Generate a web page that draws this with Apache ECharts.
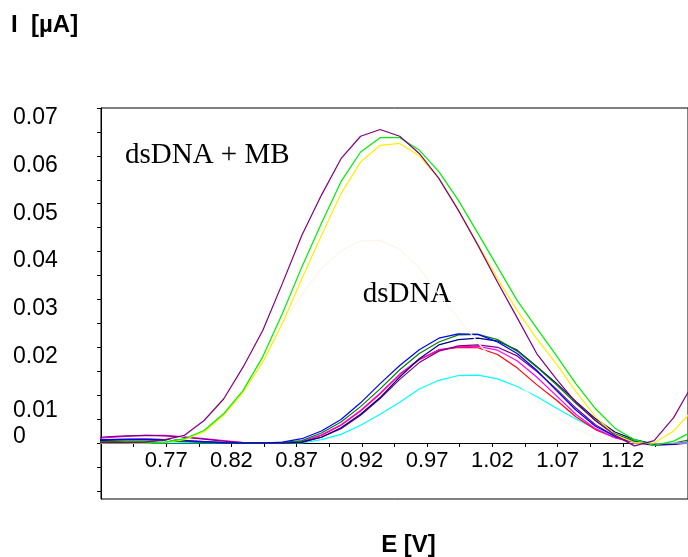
<!DOCTYPE html>
<html>
<head>
<meta charset="utf-8">
<script src="https://cdn.jsdelivr.net/npm/echarts@6/dist/echarts.min.js"></script>
<style>
  html, body { margin: 0; padding: 0; background: #ffffff; }
  #chart { width: 688px; height: 557px; }
</style>
</head>
<body>
<div id="chart"></div>
<script>
// Potential sweep (V), one sample every 15 mV
const potentials = [0.709, 0.724, 0.739, 0.754, 0.769, 0.784, 0.799, 0.814, 0.829, 0.844,
  0.859, 0.874, 0.889, 0.904, 0.919, 0.934, 0.949, 0.964, 0.979, 0.994,
  1.009, 1.024, 1.039, 1.054, 1.069, 1.084, 1.099, 1.114, 1.129, 1.144,
  1.159, 1.174];

// dsDNA + MB scans (current, µA)
const mbPurple = [0.0001, 0.0001, 0.0001, 0.0002, 0.0007, 0.0016, 0.0047, 0.0092, 0.0159, 0.0235,
  0.0333, 0.0434, 0.0518, 0.0594, 0.0641, 0.0655, 0.0641, 0.0605, 0.0553, 0.0486,
  0.0413, 0.0336, 0.0262, 0.0187, 0.0134, 0.0085, 0.0047, 0.0016, -0.0006, 0.0005,
  0.0053, 0.0125];
const mbGreen = [0, 0, 0, 0.0001, 0.0002, 0.0009, 0.0026, 0.0061, 0.0110, 0.0180,
  0.0270, 0.0368, 0.0459, 0.0546, 0.0608, 0.0638, 0.0638, 0.0612, 0.0567, 0.0507,
  0.0438, 0.0368, 0.0298, 0.0240, 0.0183, 0.0124, 0.0072, 0.0031, 0.0007, -0.0005,
  0.0004, 0.0025];
const mbYellow = [0, 0, 0, 0.0001, 0.0001, 0.0007, 0.0023, 0.0058, 0.0106, 0.0169,
  0.0249, 0.0343, 0.0434, 0.0521, 0.0587, 0.0622, 0.0626, 0.0600, 0.0553, 0.0487,
  0.0415, 0.0343, 0.0277, 0.0218, 0.0166, 0.0108, 0.0055, 0.0017, 0.0001, 0.0000,
  0.0025, 0.0070];
const mbFaint = [0, 0, 0, 0, 0.0003, 0.0015, 0.0045, 0.0090, 0.0145, 0.0205,
  0.0250, 0.0310, 0.0365, 0.0402, 0.0422, 0.0424, 0.0405, 0.0366, 0.0310, 0.0260,
  0.0210, 0.0162, 0.0125, 0.0090, 0.0055, 0.0030, 0.0012, 0.0003, 0, 0,
  0, 0];

// dsDNA scans (current, µA)
const dnaBlue = [0.0006, 0.0007, 0.0008, 0.0008, 0.0007, 0.0005, 0.0003, 0.0001, 0, 0,
  0.0002, 0.0009, 0.0025, 0.0049, 0.0084, 0.0124, 0.0162, 0.0195, 0.0219, 0.0228,
  0.0227, 0.0211, 0.0187, 0.0152, 0.0110, 0.0069, 0.0035, 0.0014, 0.0002, -0.0003,
  -0.0002, 0.0003];
const dnaGreen = [0.0002, 0.0003, 0.0004, 0.0004, 0.0004, 0.0003, 0.0002, 0.0001, 0, 0,
  0.0001, 0.0005, 0.0021, 0.0044, 0.0076, 0.0113, 0.0153, 0.0187, 0.0211, 0.0226,
  0.0227, 0.0216, 0.0192, 0.0159, 0.0122, 0.0083, 0.0047, 0.0019, 0.0004, -0.0003,
  0.0000, 0.0008];
const dnaNavy = [0.0005, 0.0006, 0.0007, 0.0007, 0.0006, 0.0004, 0.0002, 0.0001, 0, 0,
  0, 0.0002, 0.0012, 0.0032, 0.0060, 0.0095, 0.0138, 0.0176, 0.0205, 0.0216,
  0.0219, 0.0213, 0.0194, 0.0160, 0.0125, 0.0087, 0.0051, 0.0023, 0.0007, -0.0002,
  -0.0002, 0.0002];
const dnaRed = [0.0004, 0.0006, 0.0007, 0.0008, 0.0007, 0.0005, 0.0003, 0.0001, 0, 0,
  0.0001, 0.0002, 0.0016, 0.0037, 0.0067, 0.0103, 0.0143, 0.0174, 0.0194, 0.0200,
  0.0199, 0.0185, 0.0157, 0.0122, 0.0090, 0.0055, 0.0028, 0.0011, 0.0001, -0.0003,
  -0.0002, 0.0002];
const dnaMagenta = [0.0008, 0.0011, 0.0014, 0.0016, 0.0016, 0.0013, 0.0009, 0.0005, 0.0001, 0,
  0.0001, 0.0003, 0.0017, 0.0038, 0.0068, 0.0104, 0.0144, 0.0175, 0.0195, 0.0201,
  0.0202, 0.0194, 0.0172, 0.0138, 0.0099, 0.0060, 0.0030, 0.0011, 0, -0.0003,
  -0.0002, 0.0002];
const dnaPurple = [0.0010, 0.0013, 0.0015, 0.0016, 0.0015, 0.0012, 0.0008, 0.0004, 0.0001, 0,
  0, 0.0002, 0.0012, 0.0030, 0.0058, 0.0093, 0.0133, 0.0168, 0.0192, 0.0203,
  0.0205, 0.0200, 0.0182, 0.0150, 0.0113, 0.0073, 0.0038, 0.0014, 0.0001, -0.0005,
  -0.0003, 0.0001];
const dnaCyan = [0, 0, 0, 0, 0, 0, 0, 0, 0, 0,
  0, 0, 0.0007, 0.0018, 0.0037, 0.0060, 0.0085, 0.0113, 0.0131, 0.0141,
  0.0142, 0.0134, 0.0118, 0.0097, 0.0073, 0.0050, 0.0030, 0.0012, 0.0002, -0.0002,
  -0.0001, 0.0002];

// Axis ticks and labels
const xTickValues = [0.745, 0.77, 0.795, 0.82, 0.845, 0.87, 0.895, 0.92, 0.945, 0.97,
  0.995, 1.02, 1.045, 1.07, 1.095, 1.12, 1.145, 1.17];
const xTickLabels = ['0.77', '0.82', '0.87', '0.92', '0.97', '1.02', '1.07', '1.12'];
const yTickValues = [-0.01, -0.005, 0, 0.005, 0.01, 0.015, 0.02, 0.025, 0.03, 0.035,
  0.04, 0.045, 0.05, 0.055, 0.06, 0.065, 0.07];
const yTickLabels = ['0', '0.01', '0.02', '0.03', '0.04', '0.05', '0.06', '0.07'];

const SANS = "'Liberation Sans', Arial, sans-serif";
const SERIF = "'Liberation Serif', 'Times New Roman', serif";

function pairs(values) {
  return potentials.map((e, i) => [e, values[i]]);
}

function scan(values, color) {
  return {
    type: 'line',
    data: pairs(values),
    symbol: 'none',
    clip: false,
    silent: true,
    lineStyle: { color: color, width: 1.2 },
    z: 3
  };
}

function yLabel(value) {
  const text = yTickLabels.find(t => Math.abs(Number(t) - value) < 1e-9) || '';
  const style = text === '0.01' ? 'low' : (text === '0' ? 'high' : 'std');
  return '{' + style + '|' + text + '}';
}

const labelFont = { fontSize: 23, fontFamily: SANS, color: '#000' };

const chart = echarts.init(document.getElementById('chart'), null, { renderer: 'canvas' });

chart.setOption({
  animation: false,
  backgroundColor: '#ffffff',
  grid: {
    show: true,
    left: 101,
    top: 108,
    right: -13,
    bottom: 58,
    borderColor: '#000',
    borderWidth: 1,
    containLabel: false
  },
  xAxis: {
    type: 'value',
    min: 0.72,
    max: 1.17,
    offset: 0,
    axisLine: { show: true, onZero: false, lineStyle: { color: '#000', width: 1 } },
    axisTick: { show: true, inside: false, length: 4, customValues: xTickValues,
      lineStyle: { color: '#000', width: 1 } },
    axisLabel: {
      customValues: xTickLabels.map(Number),
      formatter: v => xTickLabels.find(t => Math.abs(Number(t) - v) < 1e-9) || '',
      fontSize: 22, fontFamily: SANS, color: '#000',
      margin: 18, verticalAlign: 'middle'
    },
    splitLine: { show: false }
  },
  yAxis: {
    type: 'value',
    min: -0.0117,
    max: 0.07,
    axisLine: { show: true, lineStyle: { color: '#000', width: 1 } },
    axisTick: { show: true, inside: false, length: 4, customValues: yTickValues,
      lineStyle: { color: '#000', width: 1 } },
    axisLabel: {
      customValues: yTickLabels.map(Number),
      formatter: yLabel,
      align: 'left',
      margin: 88,
      verticalAlign: 'middle',
      fontSize: 23, fontFamily: SANS, color: '#000',
      rich: {
        std: Object.assign({ padding: [19, 0, 0, 0] }, labelFont),
        low: Object.assign({ padding: [31, 0, 0, 0] }, labelFont),
        high: Object.assign({ padding: [0, 0, 13, 0] }, labelFont)
      }
    },
    splitLine: { show: false }
  },
  series: [
    scan(dnaCyan, '#00ffff'),
    scan(dnaRed, '#ff0000'),
    scan(dnaMagenta, '#ff00ff'),
    scan(dnaPurple, '#800080'),
    scan(dnaNavy, '#000080'),
    scan(dnaGreen, '#008000'),
    scan(dnaBlue, '#0000ff'),
    scan(mbFaint, '#fbf5ec'),
    scan(mbYellow, '#ffee00'),
    scan(mbGreen, '#00ee00'),
    scan(mbPurple, '#800080')
  ],
  graphic: [
    { type: 'text', silent: true,
      style: { text: 'I  [µA]', x: 11, y: 25, font: 'bold 24px ' + SANS, fill: '#000',
        textAlign: 'left', textVerticalAlign: 'middle' } },
    { type: 'text', silent: true,
      style: { text: 'E [V]', x: 408.5, y: 545, font: 'bold 24px ' + SANS, fill: '#000',
        textAlign: 'center', textVerticalAlign: 'middle' } },
    { type: 'text', silent: true,
      style: { text: 'dsDNA + MB', x: 125, y: 155, font: '29px ' + SERIF, fill: '#000',
        textAlign: 'left', textVerticalAlign: 'middle' } },
    { type: 'text', silent: true,
      style: { text: 'dsDNA', x: 407, y: 294, font: '29px ' + SERIF, fill: '#000',
        textAlign: 'center', textVerticalAlign: 'middle' } }
  ]
});

// Lift the potential axis (line, ticks and labels) up to the zero-current level.
const zeroY = chart.convertToPixel({ yAxisIndex: 0 }, 0);
const bottomY = chart.convertToPixel({ yAxisIndex: 0 }, -0.0117);
chart.setOption({ xAxis: { offset: zeroY - bottomY } });
</script>
</body>
</html>
